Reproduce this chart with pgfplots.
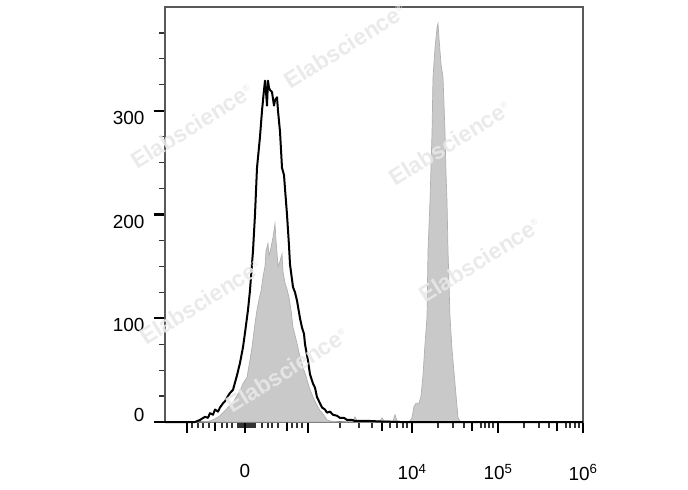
\documentclass[border=0pt]{standalone}
\usepackage{pgfplots}
\pgfplotsset{compat=1.18}
\usepackage{pgfplotstable}
\usepackage{fontspec}
\setmainfont{Liberation Sans}

% x: display position on the biexponential axis, y: count
\pgfplotstableread{
x y
165 0
200 0
210 1
215 3
220 6
223 9
226 12
229 15
233 18
236 24
240 30
243 37
247 43
250 60
252 72
255 95
257 108
259 118
261 126
263 140
265 150
266 165
268 172
269 160
271 168
273 178
275 191
276 175
278 150
280 155
282 162
283 145
285 134
287 128
289 120
291 108
293 91
296 80
299 67
303 53
306 44
309 34
313 24
317 16
320 11
322 9
325 5
327 2
330 1
340 0
353 1
355 5
357 1
370 0
380 1
382 4
384 1
393 1
395 7
397 1
405 0
410 1
412 4
414 15
416 18
419 18
421 25
423 45
425 75
427 101
428 165
430 213
432 278
433 332
435 360
437 380
438 384
439 370
441 345
443 332
445 280
446 240
447 213
448 165
450 101
452 70
455 37
457 15
458 4
460 1
462 0
583 0
}\stained

\pgfplotstableread{
x y
165 0
195 0
200 2
205 5
208 4
210 8.5
213 7
215 12
218 10
220 14
223 18
225 20
228 25
230 28
233 31
235 38
237 45
240 57
243 72
245 86
248 108
250 127
253 165
255 200
257 245
260 275
262 300
264 320
265 329
266 318
267 305
268 329
269 322
270 320
272 318
274 305
275 310
277 313
278 300
280 280
282 245
284 238
285 225
287 200
289 170
290 152
293 130
295 125
297 117
300 100
302 91
304 85
305 75
308 59
310 46
313 37
315 33
317 24
320 18
322 14
325 12
327 9
330 10
333 7
337 6
340 4
344 4
347 2
352 2
355 1
362 1
370 1
380 0.5
400 0
583 0
}\unstained

\begin{document}
\begin{tikzpicture}
\begin{axis}[
  scale only axis,
  width=418bp, height=415bp,
  xmin=165, xmax=583,
  ymin=0, ymax=400,
  clip=false,
  axis line style={draw=gray!70!black, line width=1.1bp},
  tick align=outside,
  tick pos=left,
  xtick={187,245,308,412,498,583},
  xticklabels={,0,,10\textsuperscript{4},10\textsuperscript{5},10\textsuperscript{6}},
  minor xtick={192,198,203,209,222,227,232,238,240,241.5,243,244,246,247,248.5,250,251.5,253,255,262,268,272,278,292,297,302,340,359,372,390,397,403,407,438,453,464,481,485,489,493,524,539,549,566,570,575,579},
  extra x ticks={215,287,382,472,557},
  extra x tick labels={},
  extra x tick style={major tick length=9bp, every major tick/.append style={line width=1.6bp}},
  ytick={100,200,300},
  yticklabels={100,200,300},
  minor ytick={25,50,75,125,150,175,225,250,275,325,350,375},
  extra y ticks={0},
  extra y tick labels={0},
  extra y tick style={yticklabel style={yshift=14bp}},
  major tick length=11bp,
  minor tick length=6bp,
  every major tick/.style={black, line width=2.4bp},
  every minor tick/.style={black!80, line width=1.2bp},
  tick label style={font=\fontsize{19}{21}\selectfont, text=black},
  yticklabel style={yshift=-7bp, xshift=-6bp},
  xticklabel style={yshift=-28bp},
]
\addplot[fill=gray!42, draw=gray!62, line width=0.7bp] table[x=x,y=y]{\stained} \closedcycle;
\addplot[black, line width=2bp, line join=round] table[x=x,y=y]{\unstained};
\end{axis}
\begin{scope}[every node/.style={text=gray!18, opacity=0.9, font=\fontsize{23}{23}\selectfont\bfseries, rotate=32}]
\node at (27bp,296bp) {Elabscience\textsuperscript{\small ®}};
\node at (180bp,376bp) {Elabscience\textsuperscript{\small ®}};
\node at (285bp,279bp) {Elabscience\textsuperscript{\small ®}};
\node at (36bp,120bp) {Elabscience\textsuperscript{\small ®}};
\node at (315bp,162bp) {Elabscience\textsuperscript{\small ®}};
\node at (122bp,52bp) {Elabscience\textsuperscript{\small ®}};
\end{scope}
\pgfresetboundingbox
\path (-165bp,-68bp) rectangle (523bp,422bp);
\end{tikzpicture}
\end{document}
